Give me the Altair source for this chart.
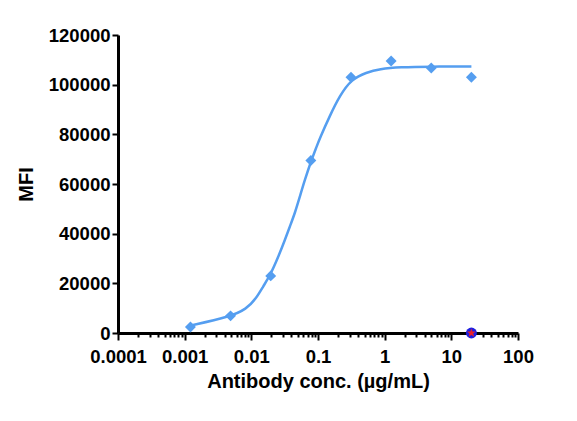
import altair as alt
import pandas as pd
import math

# Measured points (antibody concentration, µg/mL vs MFI)
conc = [20, 5, 1.25, 0.3125, 0.078125, 0.01953, 0.00488, 0.00122]
mfi = [103000, 106700, 109500, 103000, 69500, 23000, 6900, 2400]

# Fitted curve
curve_conc = [0.00119, 0.00473, 0.00843, 0.0119, 0.0150, 0.0193, 0.0255, 0.0320,
              0.0380, 0.0452, 0.0537, 0.0625, 0.0796, 0.0946, 0.106, 0.150, 0.211,
              0.317, 0.532, 0.841, 1.68, 5.0, 20]
curve_mfi = [2900, 6500, 9600, 14000, 18700, 23400, 30800, 37600,
             43000, 48400, 55100, 61100, 69600, 74800, 78300, 87400, 95500,
             102200, 104900, 106300, 107070, 107300, 107300]

# Control point
ctrl_conc = [20]
ctrl_mfi = [0]

tick_vals = []
for k in range(-4, 2):
    for m in range(1, 10):
        tick_vals.append(float(f"{m}e{k}"))
tick_vals.append(100.0)

y_ticks = [0, 20000, 40000, 60000, 80000, 100000, 120000]

BLUE = "#559ef0"
FONT = "Liberation Sans"

is_major = "abs(log(datum.value)/LN10 - round(log(datum.value)/LN10)) < 0.001"

X = alt.X(
    "conc:Q",
    scale=alt.Scale(type="log", domain=[0.0001, 100], nice=False),
    axis=alt.Axis(
        values=tick_vals,
        labelExpr=f"({is_major}) ? format(datum.value, '~g') : ''",
        tickSize={"condition": {"test": is_major, "value": 7}, "value": 4},
        title="Antibody conc. (µg/mL)",
        labelPadding=7,
        titlePadding=6,
        labelFlush=False,
        labelOverlap=False,
        grid=False,
    ),
)
Y = alt.Y(
    "mfi:Q",
    scale=alt.Scale(domain=[0, 120000], nice=False),
    axis=alt.Axis(
        values=y_ticks,
        format="d",
        tickSize=6,
        title="MFI",
        labelPadding=2,
        titlePadding=12,
        grid=False,
    ),
)

df_pts = pd.DataFrame({"conc": conc, "mfi": mfi})
df_curve = pd.DataFrame({"conc": curve_conc, "mfi": curve_mfi})
df_ctrl = pd.DataFrame({"conc": ctrl_conc, "mfi": ctrl_mfi})

line = alt.Chart(df_curve).mark_line(
    color=BLUE, strokeWidth=2.5, interpolate="basis", clip=False
).encode(x=X, y=Y)

pts = alt.Chart(df_pts).mark_point(
    shape="diamond", filled=True, color=BLUE, size=120, opacity=1
).encode(x=X, y=Y)

# star symbol outline
star_pts = []
for i in range(10):
    r = 1.0 if i % 2 == 0 else 0.42
    a = -math.pi / 2 + i * math.pi / 5
    star_pts.append(f"{r*math.cos(a):.3f},{r*math.sin(a):.3f}")
star_path = "M" + "L".join(star_pts) + "Z"

ctrl_circle = alt.Chart(df_ctrl).mark_point(
    shape="circle", filled=True, color="#1f1fe0", size=120, opacity=1, clip=False
).encode(x=X, y=Y)

ctrl_star = alt.Chart(df_ctrl).mark_point(
    shape=star_path, filled=True, color="#e8202a", size=85, opacity=1, clip=False
).encode(x=X, y=Y)

chart = alt.layer(line, pts, ctrl_circle, ctrl_star).properties(
    width=400,
    height=298,
    autosize=alt.AutoSizeParams(type="none"),
    padding={"left": 110, "top": 27, "right": 51, "bottom": 80},
).configure_view(stroke=None).configure_axis(
    domainColor="black",
    domainWidth=3,
    tickColor="black",
    tickWidth=2,
    labelFont=FONT,
    labelFontSize=18.5,
    labelFontWeight="bold",
    labelColor="black",
    titleFont=FONT,
    titleFontSize=20,
    titleFontWeight="bold",
    titleColor="black",
)

chart.save("out.html", embed_options={"renderer": "svg", "actions": False})
